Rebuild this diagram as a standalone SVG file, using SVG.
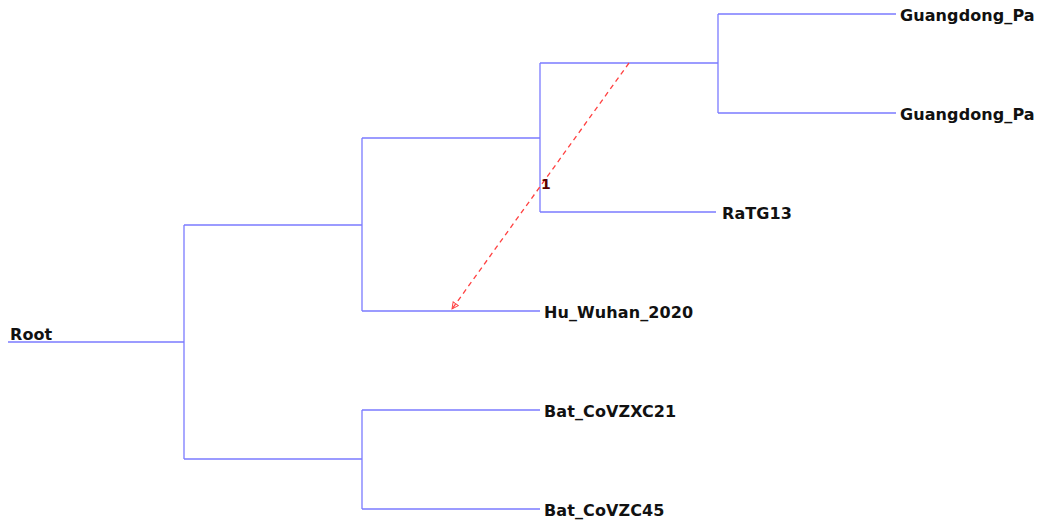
<svg xmlns="http://www.w3.org/2000/svg" width="1038" height="521" viewBox="0 0 1038 521">
<defs>
<style>
.e{stroke:#7b7bff;stroke-width:1.3;fill:none}
.l{font-family:"DejaVu Sans",Verdana,sans-serif;font-weight:bold;font-size:16px;fill:#111;letter-spacing:0.1px}
</style>
<marker id="ah" viewBox="0 0 10 10" refX="9" refY="5" markerWidth="8" markerHeight="8" orient="auto" markerUnits="userSpaceOnUse">
<path d="M1,1 L9,5 L1,9 Z" fill="none" stroke="#ff4040" stroke-width="1.2"/>
</marker>
</defs>
<rect width="1038" height="521" fill="#fff"/>
<g id="connectors">
<path class="e" d="M8,342H184M184,225V459M184,225H362M184,459H362M362,138V311M362,138H540M362,311H540M540,63V212M540,63H718M540,212H716M718,14V113M718,14H896M718,113H896M362,410V509M362,410H540M362,509H540"/>
<line x1="629" y1="63" x2="452" y2="309" stroke="#ff4040" stroke-width="1.3" stroke-dasharray="5,4" marker-end="url(#ah)"/>
<text x="541" y="189" style="font-family:'DejaVu Sans',sans-serif;font-weight:bold;font-size:14px;fill:#5a0000">1</text>
</g>
<g id="root"><text class="l" x="10" y="340">Root</text></g>
<g id="gp1"><text class="l" x="900" y="21">Guangdong_Pa</text></g>
<g id="gp2"><text class="l" x="900" y="120">Guangdong_Pa</text></g>
<g id="ratg13"><text class="l" x="722" y="219">RaTG13</text></g>
<g id="hu"><text class="l" x="544" y="318">Hu_Wuhan_2020</text></g>
<g id="zxc21"><text class="l" x="544" y="417">Bat_CoVZXC21</text></g>
<g id="zc45"><text class="l" x="544" y="516">Bat_CoVZC45</text></g>
</svg>
